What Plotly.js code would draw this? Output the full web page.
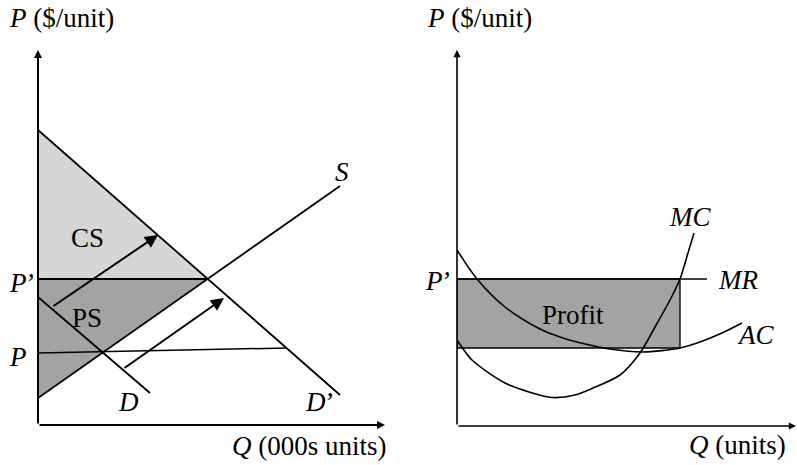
<!DOCTYPE html>
<html>
<head>
<meta charset="utf-8">
<script src="https://cdn.plot.ly/plotly-3.0.1.min.js"></script>
<style>
  html, body { margin: 0; padding: 0; background: #fff; }
  #plot { width: 797px; height: 465px; }
</style>
</head>
<body>
<div id="plot"></div>
<script>
// Left panel: market (Q in 000s units, P in $/unit)
var demandQ = [0, 11.2];
var demandP = [12.8, 3.2];
var demand2Q = [0, 30.2];
var demand2P = [29.5, 3.0];
var supplyQ = [0, 30.2];
var supplyP = [2.7, 23.9];
var oldPriceQ = [0, 24.9];
var oldPriceP = [7.2, 7.7];
var newPriceQ = [0, 16.97];
var newPriceP = [14.6, 14.6];
var csQ = [0, 0, 16.97];
var csP = [29.5, 14.6, 14.6];
var psQ = [0, 16.97, 0];
var psP = [14.6, 14.6, 2.7];
// demand shift arrows (tail -> head)
var shiftTailQ = [1.4, 8.5];
var shiftTailP = [11.8, 5.6];
var shiftHeadQ = [12.0, 18.6];
var shiftHeadP = [19.0, 12.7];

// Right panel: firm (Q in units)
var acQ = [0, 2.0, 4.8, 8.1, 10.3, 12.8, 15.3, 18.6, 22.3, 24.3, 26.5, 28.5];
var acP = [17.6, 14.7, 11.9, 9.8, 8.9, 8.2, 7.7, 7.4, 7.8, 8.4, 9.3, 10.3];
var mcQ = [0, 1.5, 4.8, 7.2, 9.5, 11.8, 13.6, 16.3, 18.3, 19.8, 21.3, 22.3, 23.1, 23.7];
var mcP = [8.6, 6.6, 4.3, 3.4, 2.85, 3.1, 3.8, 5.1, 7.3, 9.9, 12.6, 14.7, 17.3, 19.3];
var mrQ = [0, 25.0];
var mrP = [14.7, 14.7];
var profitQ = [0, 22.3, 22.3, 0];
var profitP = [14.7, 14.7, 7.8, 7.8];

var serif = "Liberation Serif";

function line(x, y, xa, ya, w, smooth) {
  var l = {color: "black", width: w || 1.8};
  if (smooth) { l.shape = "spline"; l.smoothing = 0.8; }
  return {x: x, y: y, xaxis: xa, yaxis: ya, mode: "lines", type: "scatter",
          line: l, hoverinfo: "skip"};
}
function area(x, y, xa, ya, color) {
  return {x: x, y: y, xaxis: xa, yaxis: ya, mode: "lines", type: "scatter",
          fill: "toself", fillcolor: color, line: {width: 0}, hoverinfo: "skip"};
}

var traces = [
  area(csQ, csP, "x", "y", "#d6d6d6"),
  area(psQ, psP, "x", "y", "#a3a3a3"),
  line(newPriceQ, newPriceP, "x", "y"),
  line(oldPriceQ, oldPriceP, "x", "y", 1.5),
  line(demandQ, demandP, "x", "y"),
  line(demand2Q, demand2P, "x", "y"),
  line(supplyQ, supplyP, "x", "y"),

  area(profitQ, profitP, "x2", "y2", "#a3a3a3"),
  line(profitQ.concat([0]), profitP.concat([14.7]), "x2", "y2", 1.3),
  line(mrQ, mrP, "x2", "y2", 1.5),
  line(acQ, acP, "x2", "y2", 1.6, true),
  line(mcQ, mcP, "x2", "y2", 1.6, true)
];

function label(text, x, y, xa, ya, anchor) {
  return {text: text, x: x, y: y, xref: xa, yref: ya, showarrow: false,
          xanchor: anchor || "center", yanchor: "middle",
          font: {family: serif, size: 27, color: "black"}};
}
// text placed by pixel position on the page (outside the plot ranges)
function pageLabel(text, px, py, anchor) {
  return label(text, px / 797, (465 - py) / 465, "paper", "paper", anchor);
}
function arrow(x0, y0, x1, y1, xa, ya, w, s) {
  return {text: "", x: x1, y: y1, ax: x0, ay: y0, xref: xa, yref: ya, axref: xa, ayref: ya,
          showarrow: true, arrowhead: 2, arrowsize: s, arrowwidth: w, arrowcolor: "black", standoff: 0};
}

var annotations = [
  // left axes
  arrow(0, 0, 0, 37.5, "x", "y", 2, 0.8),
  arrow(0, 0, 34.7, 0, "x", "y", 2, 0.8),
  pageLabel("<i>P</i> ($/unit)", 7, 18, "left"),
  pageLabel("<i>Q</i> (000s units)", 389, 446, "right"),
  pageLabel("<i>P</i>\u2019", 7, 283, "left"),
  pageLabel("<i>P</i>", 7, 357, "left"),
  label("CS", 4.9, 18.7, "x", "y"),
  label("PS", 4.9, 10.7, "x", "y"),
  label("<i>S</i>", 30.4, 25.3, "x", "y"),
  label("<i>D</i>", 9.0, 2.3, "x", "y"),
  label("<i>D</i>\u2019", 28.2, 2.3, "x", "y"),
  // right axes
  arrow(0, 0, 0, 37.6, "x2", "y2", 1.6, 0.9),
  arrow(0, 0, 33.9, 0, "x2", "y2", 1.6, 0.9),
  pageLabel("<i>P</i> ($/unit)", 425, 18, "left"),
  pageLabel("<i>Q</i> (units)", 788, 445, "right"),
  pageLabel("<i>P</i>\u2019", 423, 281, "left"),
  label("<i>MC</i>", 23.3, 20.9, "x2", "y2"),
  label("<i>MR</i>", 28.1, 14.6, "x2", "y2"),
  label("<i>AC</i>", 29.8, 9.1, "x2", "y2"),
  label("Profit", 11.6, 11.1, "x2", "y2")
];
for (var i = 0; i < shiftTailQ.length; i++) {
  annotations.push(arrow(shiftTailQ[i], shiftTailP[i], shiftHeadQ[i], shiftHeadP[i], "x", "y", 2, 1.3));
}

var hidden = {showgrid: false, zeroline: false, showline: false, showticklabels: false, ticks: "", fixedrange: true};

var layout = {
  width: 797,
  height: 465,
  margin: {l: 0, r: 0, t: 0, b: 0},
  paper_bgcolor: "white",
  plot_bgcolor: "rgba(0,0,0,0)",
  showlegend: false,
  xaxis: Object.assign({domain: [38 / 797, 388 / 797], range: [0, 35]}, hidden),
  yaxis: Object.assign({domain: [40 / 465, 415 / 465], range: [0, 37.5]}, hidden),
  xaxis2: Object.assign({domain: [457 / 797, 1], range: [0, 34], anchor: "y2"}, hidden),
  yaxis2: Object.assign({domain: [39 / 465, 415 / 465], range: [0, 37.6], anchor: "x2"}, hidden),
  annotations: annotations
};

Plotly.newPlot("plot", traces, layout, {staticPlot: true});
</script>
</body>
</html>
